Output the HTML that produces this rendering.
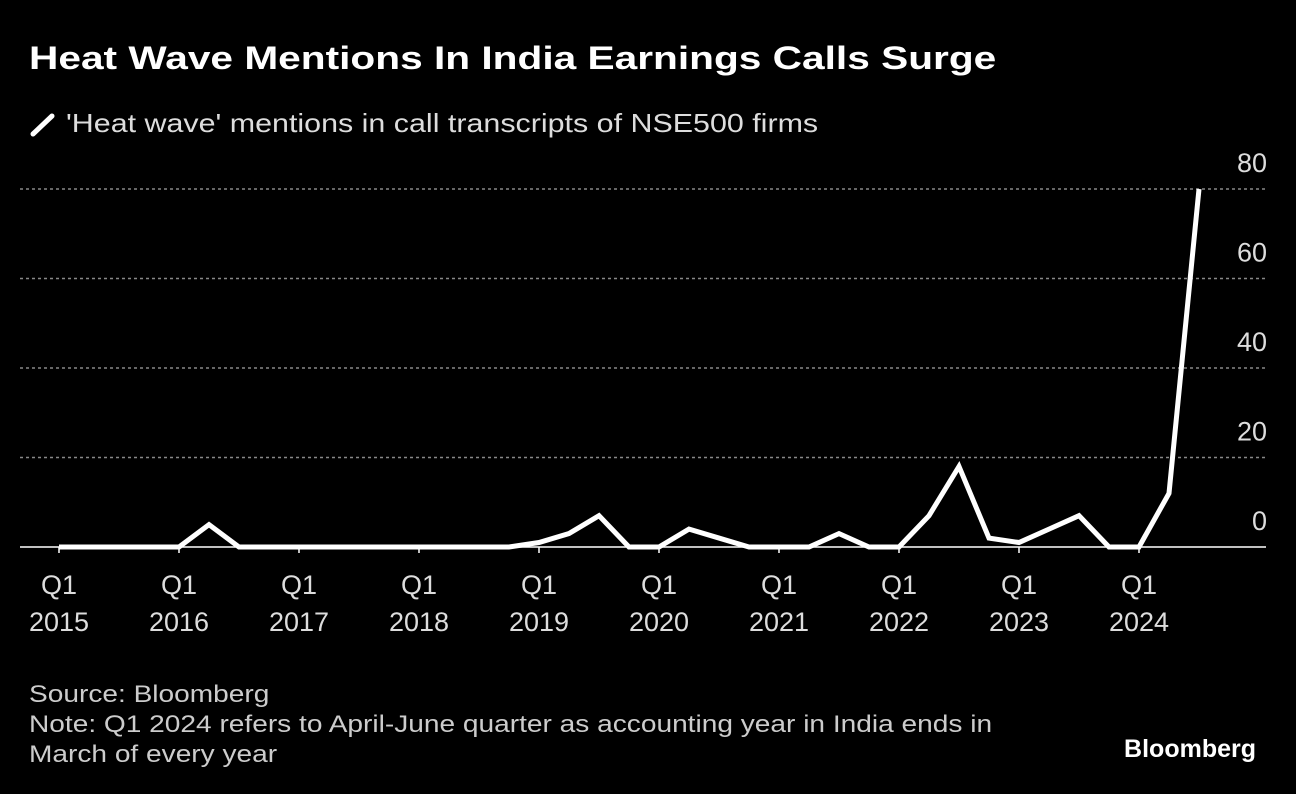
<!DOCTYPE html>
<html><head><meta charset="utf-8"><style>
body{margin:0;background:#000;width:1296px;height:794px;overflow:hidden;font-family:"Liberation Sans",sans-serif;color:#fff}
.t{position:absolute;left:29px;top:40px;font-size:32px;font-weight:bold;transform:scaleX(1.27);transform-origin:left top;white-space:nowrap}
.lg{position:absolute;left:66px;top:108px;font-size:26px;color:#ddd;transform:scaleX(1.17);transform-origin:left top;white-space:nowrap}
.ft{position:absolute;left:29px;font-size:24px;color:#ccc;line-height:30px;transform:scaleX(1.17);transform-origin:left top;white-space:nowrap}
.bb{position:absolute;right:40px;top:735px;font-size:25px;font-weight:bold}
</style></head><body>
<div class="t">Heat Wave Mentions In India Earnings Calls Surge</div>
<svg style="position:absolute;left:30px;top:112px" width="26" height="26"><line x1="3" y1="22" x2="22" y2="4" stroke="#fff" stroke-width="5" stroke-linecap="round"/></svg>
<div class="lg">'Heat wave' mentions in call transcripts of NSE500 firms</div>
<svg id="c" style="position:absolute;left:0;top:0" width="1296" height="794"></svg>
<div class="ft" style="top:680px">Source: Bloomberg<br>Note: Q1 2024 refers to April-June quarter as accounting year in India ends in<br>March of every year</div>
<div class="bb">Bloomberg</div>
<script>
const values=[0,0,0,0, 0,5,0,0, 0,0,0,0, 0,0,0,0, 1,3,7,0, 0,4,2,0, 0,0,3,0, 0,7,18,2, 1,4,7,0, 0,12,80];
const yTicks=[0,20,40,60,80];
const years=["2015","2016","2017","2018","2019","2020","2021","2022","2023","2024"];
const svg=document.getElementById('c');const NS='http://www.w3.org/2000/svg';
const x=i=>59+i*30, y=v=>547-v*4.475;
function mk(t,a){const e=document.createElementNS(NS,t);for(const k in a)e.setAttribute(k,a[k]);svg.appendChild(e);return e;}
yTicks.forEach(v=>{
 const l=mk('line',{x1:20,x2:1266,y1:y(v),y2:y(v),stroke:v===0?'#fff':'#888','stroke-width':1.5,'stroke-dasharray':v===0?'':'3,3'});
 
 
 const t=mk('text',{x:1267,y:y(v)-17,'text-anchor':'end',fill:'#ddd','font-size':27,'font-family':'Liberation Sans, sans-serif'});t.textContent=v;
 
 
});
years.forEach((yr,k)=>{
 const xx=x(k*4);
 const tk=mk('line',{x1:xx,x2:xx,y1:547,y2:553,stroke:'#fff','stroke-width':1.5});
 
 
 const t=mk('text',{x:xx,y:594,'text-anchor':'middle',fill:'#ddd','font-size':27,'font-family':'Liberation Sans, sans-serif'});
 t.innerHTML='<tspan x="'+xx+'">Q1</tspan><tspan x="'+xx+'" dy="37">'+yr+'</tspan>';
 
 
});
const p=mk('polyline',{points:values.map((v,i)=>x(i)+','+y(v)).join(' '),fill:'none',stroke:'#fff','stroke-width':5,'stroke-linejoin':'miter'});


</script>
</body></html>
